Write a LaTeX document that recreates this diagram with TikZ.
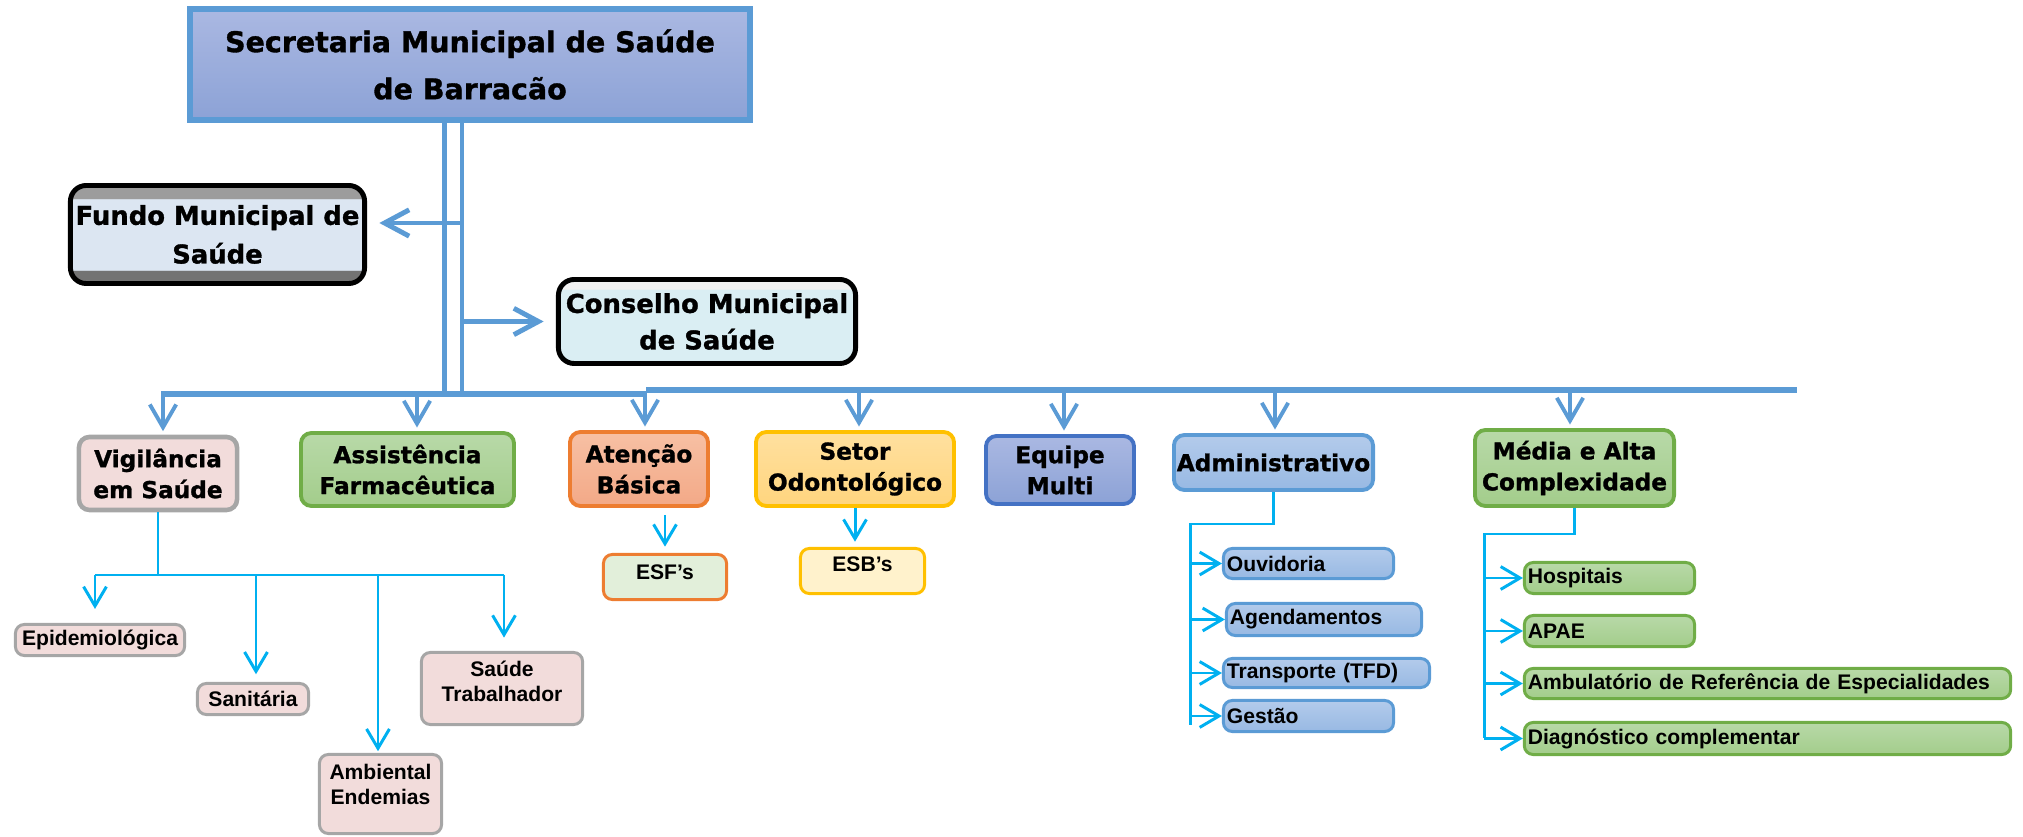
\documentclass[tikz,border=0pt]{standalone}
\usepackage{fontspec}
\setmainfont{Liberation Sans}
\newfontfamily\heavyfont{DejaVu Sans}[BoldFeatures={FakeBold=1.2}]
\usetikzlibrary{arrows.meta,positioning}

\definecolor{lineblue}{HTML}{5B9BD5}
\definecolor{linecyan}{HTML}{00B0F0}
\definecolor{secTop}{HTML}{AAB8E2}
\definecolor{secBot}{HTML}{8CA2D6}
\definecolor{fundoFill}{HTML}{DCE6F2}
\definecolor{fundoTop}{HTML}{9C9C9C}
\definecolor{fundoBot}{HTML}{737373}
\definecolor{consFill}{HTML}{DAEEF3}
\definecolor{consTop}{HTML}{F2F2F2}
\definecolor{vigFill}{HTML}{F2DCDB}
\definecolor{vigLine}{HTML}{A6A6A6}
\definecolor{grnTop}{HTML}{B8D9A8}
\definecolor{grnBot}{HTML}{A3CD8B}
\definecolor{grnLine}{HTML}{70AD47}
\definecolor{orgTop}{HTML}{F7C0A4}
\definecolor{orgBot}{HTML}{F3A987}
\definecolor{orgLine}{HTML}{ED7D31}
\definecolor{yelTop}{HTML}{FFE09F}
\definecolor{yelBot}{HTML}{FFD57E}
\definecolor{yelLine}{HTML}{FFC000}
\definecolor{eqLine}{HTML}{4472C4}
\definecolor{admTop}{HTML}{B3CBEB}
\definecolor{admBot}{HTML}{98B9E3}
\definecolor{esfFill}{HTML}{E2EFDA}
\definecolor{esbFill}{HTML}{FFF2CC}

\pgfdeclareverticalshading{fundoshade}{100bp}{color(0bp)=(fundoBot); color(31.5bp)=(fundoBot);
  color(32bp)=(fundoFill); color(68bp)=(fundoFill); color(68.5bp)=(fundoTop); color(100bp)=(fundoTop)}
\pgfdeclareverticalshading{consshade}{100bp}{color(0bp)=(consFill); color(69bp)=(consFill);
  color(69.5bp)=(consTop); color(100bp)=(consTop)}

\begin{document}
\begin{tikzpicture}[x=0.01cm,y=-0.01cm,
  box/.style={draw,align=center,inner sep=0pt,rounded corners=3pt},
  mainbox/.style={box,sharp corners,line width=1.7pt,draw=lineblue,top color=secTop,bottom color=secBot,
    font=\heavyfont\bfseries\fontsize{8.1}{13.4}\selectfont},
  sidebox/.style={box,rounded corners=4.5pt,line width=1.4pt,draw=black,
    font=\heavyfont\bfseries\fontsize{7.35}{11}\selectfont},
  unitbox/.style={box,line width=1.1pt,font=\heavyfont\bfseries\fontsize{6.6}{8.8}\selectfont},
  subbox/.style={box,rounded corners=2.5pt,line width=0.85pt,font=\bfseries\fontsize{6}{7.1}\selectfont},
  listbox/.style={subbox,align=left,inner xsep=1pt},
  busline/.style={lineblue,line width=1.7pt},
  trunkline/.style={lineblue,line width=1.4pt},
  droparrow/.style={lineblue,line width=1.1pt,-{Straight Barb[length=6.5pt,width=7.5pt]}},
  sidearrow/.style={lineblue,line width=1.4pt,-{Straight Barb[length=7pt,width=7.5pt]}},
  cyanline/.style={linecyan,line width=0.85pt},
  cyanarrow/.style={cyanline,-{Straight Barb[length=5.5pt,width=6.5pt]}}]

\useasboundingbox (0,0) rectangle (2023,837);

% top of the chart
\node[mainbox,minimum width=5.60cm,minimum height=1.11cm] (sec) at (470,64.5)
  {Secretaria Municipal de Saúde\\de Barracão};
\node[sidebox,shading=fundoshade,minimum width=2.94cm,minimum height=0.98cm] (fundo) at (217.5,234.5)
  {Fundo Municipal de\\Saúde};
\node[sidebox,shading=consshade,minimum width=2.97cm,minimum height=0.84cm,
  font=\heavyfont\bfseries\fontsize{7.35}{10.4}\selectfont] (cons) at (707,321.5)
  {Conselho Municipal\\de Saúde};

% second level
\node[unitbox,draw=vigLine,fill=vigFill,line width=1.3pt,minimum width=1.58cm,minimum height=0.73cm] (vig) at (158,473.5)
  {Vigilância\\em Saúde};
\node[unitbox,draw=grnLine,top color=grnTop,bottom color=grnBot,minimum width=2.13cm,minimum height=0.73cm] (farm) at (407.5,469.5)
  {Assistência\\Farmacêutica};
\node[unitbox,draw=orgLine,top color=orgTop,bottom color=orgBot,minimum width=1.38cm,minimum height=0.74cm] (aten) at (639,469)
  {Atenção\\Básica};
\node[unitbox,draw=yelLine,top color=yelTop,bottom color=yelBot,minimum width=1.98cm,minimum height=0.74cm] (odon) at (855,469)
  {Setor\\Odontológico};
\node[unitbox,draw=eqLine,top color=secTop,bottom color=secBot,minimum width=1.48cm,minimum height=0.68cm] (multi) at (1060,470)
  {Equipe\\Multi};
\node[unitbox,draw=lineblue,top color=admTop,bottom color=admBot,minimum width=1.99cm,minimum height=0.55cm] (adm) at (1273.5,462.5)
  {Administrativo};
\node[unitbox,draw=grnLine,top color=grnTop,bottom color=grnBot,minimum width=1.99cm,minimum height=0.76cm] (media) at (1574.5,468)
  {Média e Alta\\Complexidade};

% vigilancia
\node[subbox,draw=vigLine,fill=vigFill,minimum width=1.69cm,minimum height=0.31cm] (epi) at (100,640) {Epidemiológica};
\node[subbox,draw=vigLine,fill=vigFill,minimum width=1.11cm,minimum height=0.31cm] (sanit) at (253,699) {Sanitária};
\node[subbox,draw=vigLine,fill=vigFill,minimum width=1.61cm,minimum height=0.72cm,text depth=4.3pt] (trab) at (502,688.5)
  {Saúde\\Trabalhador};
\node[subbox,draw=vigLine,fill=vigFill,minimum width=1.22cm,minimum height=0.79cm,text depth=5.4pt] (ambi) at (380.5,794)
  {Ambiental\\Endemias};

% equipes
\node[subbox,draw=orgLine,fill=esfFill,minimum width=1.23cm,minimum height=0.45cm,text depth=2.8pt] (esf) at (665,577) {ESF’s};
\node[subbox,draw=yelLine,fill=esbFill,minimum width=1.24cm,minimum height=0.45cm,text depth=4pt] (esb) at (862.5,571) {ESB’s};

% administrativo
\node[listbox,draw=lineblue,top color=admTop,bottom color=admBot,text width=1.63cm,minimum height=0.30cm] (ouv) at (1308.5,563.5) {Ouvidoria};
\node[listbox,draw=lineblue,top color=admTop,bottom color=admBot,text width=1.88cm,minimum height=0.32cm] (agend) at (1324,619.5) {Agendamentos};
\node[listbox,draw=lineblue,top color=admTop,bottom color=admBot,text width=1.99cm,minimum height=0.29cm] (transp) at (1326.5,673) {Transporte (TFD)};
\node[listbox,draw=lineblue,top color=admTop,bottom color=admBot,text width=1.63cm,minimum height=0.31cm] (gest) at (1308.5,716) {Gestão};

% media e alta
\node[listbox,draw=grnLine,top color=grnTop,bottom color=grnBot,text width=1.63cm,minimum height=0.31cm] (hosp) at (1609.5,578) {Hospitais};
\node[listbox,draw=grnLine,top color=grnTop,bottom color=grnBot,text width=1.63cm,minimum height=0.31cm] (apae) at (1609.5,631) {APAE};
\node[listbox,draw=grnLine,top color=grnTop,bottom color=grnBot,text width=4.79cm,minimum height=0.30cm] (ambu) at (1767.5,683.5)
  {Ambulatório de Referência de Especialidades};
\node[listbox,draw=grnLine,top color=grnTop,bottom color=grnBot,text width=4.79cm,minimum height=0.32cm] (diag) at (1767.5,738.5)
  {Diagnóstico complementar};

% trunk and bus
\coordinate (tl) at (444.5,394);
\coordinate (tr) at (462,392);
\coordinate (fa) at (462,223);
\draw[trunkline] (tl |- sec.south) -- (tl);
\draw[trunkline] (tr |- sec.south) -- (tr);
\draw[sidearrow,shorten >=3.5pt] (fa) -- (fa -| fundo.east);
\draw[sidearrow,shorten >=3.5pt] (tr |- cons.west) -- (cons.west);

\coordinate (busL) at (161,394);
\coordinate (busM) at (646,390);
\coordinate (busR) at (1797,390);
\draw[busline] (busL) -- (busL -| busM);
\draw[busline] (busM) -- (busR);

\foreach \x/\n in {163/vig,417/farm,645/aten,859/odon,1064/multi,1275/adm,1570/media}
  \draw[droparrow,shorten >=1pt] (\x,392) -- (\x,392 |- \n.north);

% vigilancia branches
\coordinate (vl) at (95,575);
\coordinate (vr) at (504,575);
\draw[cyanline] (vig.south) -- (vig.south |- vl);
\draw[cyanline] (vl) -- (vr);
\foreach \x/\n/\s in {95/epi/4,256/sanit/2.2,378/ambi/0.5,504/trab/3.8}
  \draw[cyanarrow,shorten >=\s pt] (\x,575) -- (\x,575 |- \n.north);

\draw[cyanarrow,shorten <=2pt,shorten >=1.8pt] (esf.north |- aten.south) -- (esf.north);
\draw[cyanarrow,shorten >=1.5pt] (odon.south) -- (odon.south |- esb.north);

% administrativo branches
\coordinate (al) at (1190,524);
\coordinate (ab) at (1190,725);
\draw[cyanline] (adm.south) |- (al) -- (ab);
\foreach \n in {ouv,agend,transp,gest}
  \draw[cyanarrow] (al |- \n.west) -- (\n.west);

% media e alta branches
\coordinate (ml) at (1484,534);
\coordinate (mb) at (1484,738);
\draw[cyanline] (media.south) |- (ml) -- (mb);
\foreach \n in {hosp,apae,ambu,diag}
  \draw[cyanarrow] (ml |- \n.west) -- (\n.west);

\end{tikzpicture}
\end{document}
